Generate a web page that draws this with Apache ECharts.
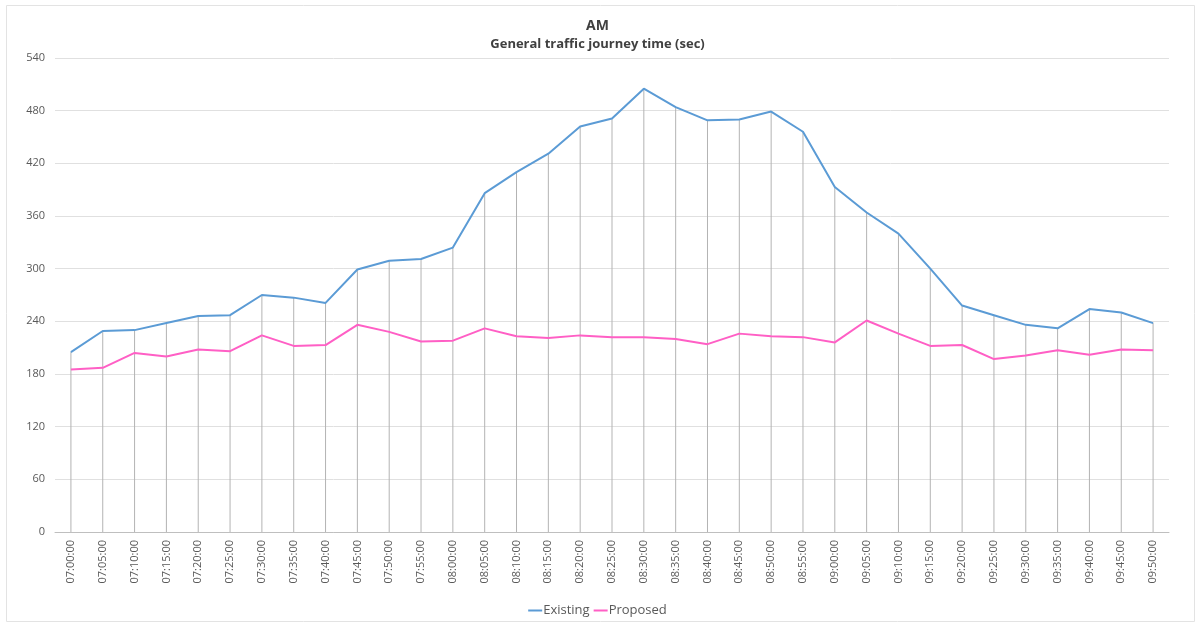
<!DOCTYPE html>
<html style="height: 100%">
<head>
<meta charset="utf-8">
<script src="https://cdn.jsdelivr.net/npm/echarts@6/dist/echarts.min.js"></script>
</head>
<body style="height: 100%; margin: 0; background: #fff">
<div id="container" style="width: 1195px; height: 623px"></div>
<script type="text/javascript">
var times = ['07:00:00','07:05:00','07:10:00','07:15:00','07:20:00','07:25:00','07:30:00','07:35:00','07:40:00','07:45:00',
	'07:50:00','07:55:00','08:00:00','08:05:00','08:10:00','08:15:00','08:20:00','08:25:00','08:30:00','08:35:00',
	'08:40:00','08:45:00','08:50:00','08:55:00','09:00:00','09:05:00','09:10:00','09:15:00','09:20:00','09:25:00',
	'09:30:00','09:35:00','09:40:00','09:45:00','09:50:00'];
var existing = [205, 229, 230, 238, 246, 247, 270, 267, 261, 299,
	309, 311, 324, 386, 410, 431, 462, 471, 505, 484,
	469, 470, 479, 456, 393, 364, 340, 300, 258, 247,
	236, 232, 254, 250, 238];
var proposed = [185, 187, 204, 200, 208, 206, 224, 212, 213, 236,
	228, 217, 218, 232, 223, 221, 224, 222, 222, 220,
	214, 226, 223, 222, 216, 241, 226, 212, 213, 197,
	201, 207, 202, 208, 207];

// drop lines go from the higher of the two series down to the axis
var dropTop = existing.map(function(v, i) {
	return Math.max(v, proposed[i]);
});

var dom = document.getElementById('container');
var myChart = echarts.init(dom);
var option = {
	animation: false,
	title: {
		text: 'AM',
		subtext: 'General traffic journey time (sec)',
		left: 'center',
		top: 14,
		itemGap: 5,
		textStyle: { fontFamily: 'Open Sans', fontSize: 14, fontWeight: 'bold', color: '#404040' },
		subtextStyle: { fontFamily: 'Open Sans', fontSize: 13, fontWeight: 'bold', color: '#404040' }
	},
	graphic: [{
		type: 'rect',
		shape: { x: 6.5, y: 5.5, width: 1188, height: 616 },
		style: { fill: null, stroke: '#e3e3e3', lineWidth: 1 },
		silent: true
	}],
	legend: {
		data: ['Existing', 'Proposed'],
		bottom: 1,
		left: 'center',
		itemWidth: 14,
		itemHeight: 2,
		itemGap: 4,
		icon: 'rect',
		textStyle: { fontFamily: 'Open Sans', fontSize: 13, color: '#595959', padding: [0, 0, 0, -4] }
	},
	grid: { left: 55, right: 26, top: 58, bottom: 91 },
	xAxis: {
		type: 'category',
		data: times,
		boundaryGap: true,
		axisLine: { lineStyle: { color: '#bfbfbf', width: 1 } },
		axisTick: { show: false },
		axisLabel: { rotate: 90, fontFamily: 'Open Sans', fontSize: 11, color: '#595959', margin: 8 }
	},
	yAxis: {
		type: 'value',
		min: 0,
		max: 540,
		interval: 60,
		axisLine: { show: false },
		axisTick: { show: false },
		axisLabel: { fontFamily: 'Open Sans', fontSize: 11, color: '#595959', margin: 10 },
		splitLine: { lineStyle: { color: '#e0e0e0', width: 1 } }
	},
	series: [{
		name: 'drop',
		type: 'bar',
		data: dropTop,
		barWidth: 1,
		silent: true,
		itemStyle: { color: '#b3b3b3' }
	}, {
		name: 'Existing',
		type: 'line',
		data: existing,
		symbol: 'none',
		lineStyle: { color: '#5b9bd5', width: 2 },
		itemStyle: { color: '#5b9bd5' }
	}, {
		name: 'Proposed',
		type: 'line',
		data: proposed,
		symbol: 'none',
		lineStyle: { color: '#ff5fc5', width: 2 },
		itemStyle: { color: '#ff5fc5' }
	}]
};
myChart.setOption(option);
</script>
</body>
</html>
